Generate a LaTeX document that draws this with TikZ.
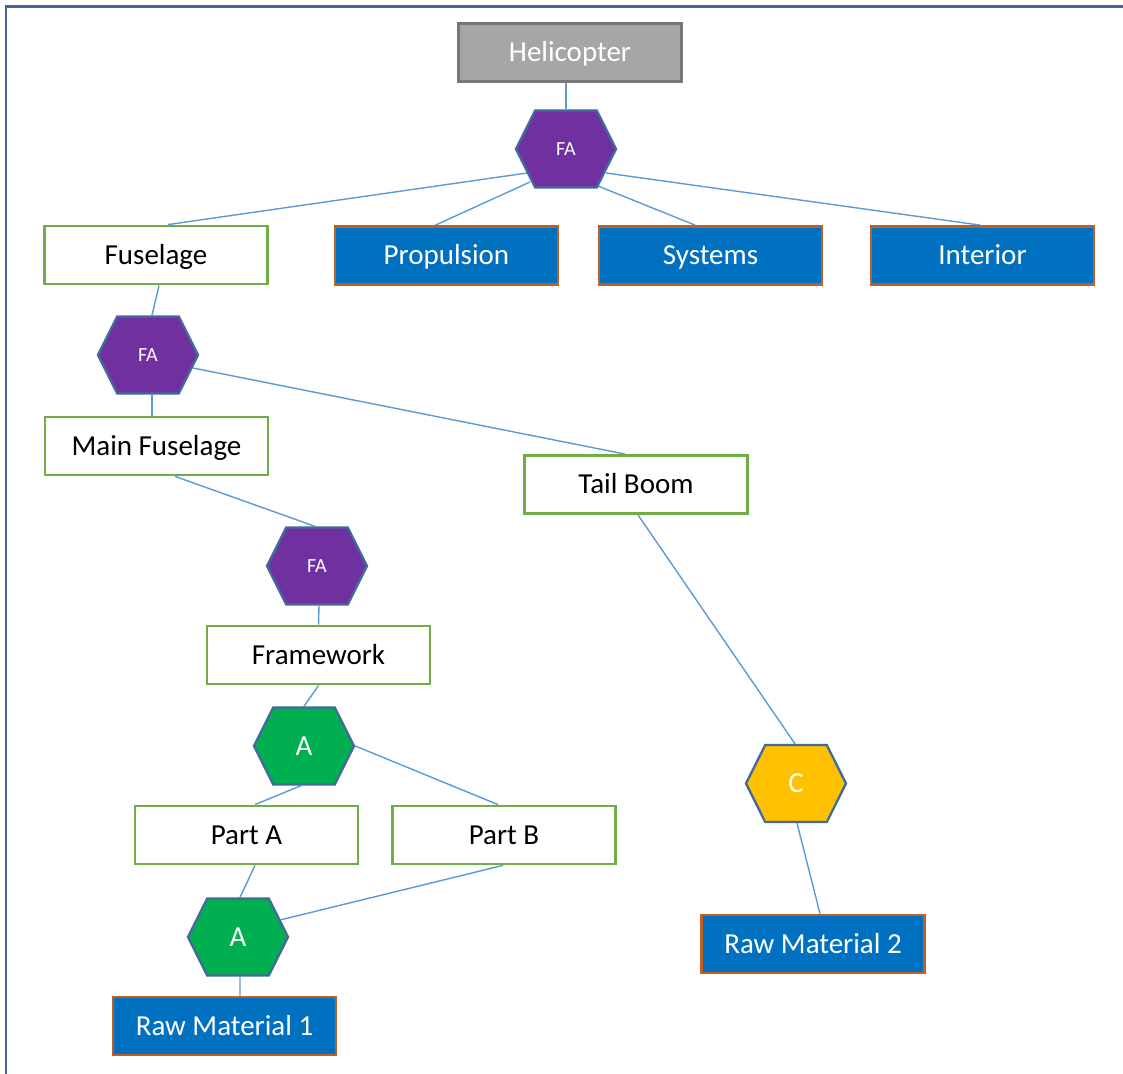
\documentclass[tikz,border=0pt]{standalone}
\usepackage{fontspec}
\setmainfont{Carlito}
\usetikzlibrary{shapes.symbols,calc,backgrounds}

\definecolor{linkblue}{RGB}{91,155,213}
\definecolor{framecol}{RGB}{63,104,163}
\definecolor{partgreen}{RGB}{112,173,71}
\definecolor{buyblue}{RGB}{0,112,192}
\definecolor{buyedge}{RGB}{190,95,35}
\definecolor{rootfill}{RGB}{166,166,166}
\definecolor{rootedge}{RGB}{120,120,120}
\definecolor{hexedge}{RGB}{65,105,155}
\definecolor{fapurple}{RGB}{112,48,160}
\definecolor{agreen}{RGB}{0,176,80}
\definecolor{cyellow}{RGB}{255,192,0}

\begin{document}
\begin{tikzpicture}[x=0.02cm,y=-0.02cm,
  anybox/.style={rectangle, minimum width=4.46cm, minimum height=1.16cm, inner sep=0pt,
    line width=1.6pt, font=\fontsize{16.5}{20}\selectfont, text height=10.6pt, text depth=0pt},
  madebox/.style={anybox, draw=partgreen, fill=white, text=black},
  buybox/.style={anybox, draw=buyedge, fill=buyblue, text=white},
  rootbox/.style={anybox, draw=rootedge, fill=rootfill, text=white},
  hexa/.style={signal, signal to=east and west, signal pointer angle=127,
    minimum width=2cm, minimum height=1.54cm, inner sep=0pt,
    draw=hexedge, line width=1.3pt, text=white},
  small hexa/.style={hexa, font=\fontsize{11.4}{13}\selectfont},
  big hexa/.style={hexa, font=\fontsize{16.5}{20}\selectfont, text height=10.6pt, text depth=0pt},
  link/.style={draw=linkblue, line width=0.8pt}]
\useasboundingbox (0,0) rectangle (1123,1074);
\draw[framecol, line width=1.7pt] (6,1080) -- (6,6.5) -- (1130,6.5);

% top level
\node[rootbox] (heli) at (570,52.5) {Helicopter};
\node[small hexa, fill=fapurple] (fa1) at (566,149) {FA};
\node[madebox] (fuselage) at (156,255) {Fuselage};
\node[buybox] (propulsion) at (446.5,255.5) {Propulsion};
\node[buybox] (systems) at (710.5,255.5) {Systems};
\node[buybox] (interior) at (982.5,255.5) {Interior};

% fuselage branch
\node[small hexa, fill=fapurple] (fa2) at (148,355) {FA};
\node[madebox] (mainfus) at (156.5,446) {Main Fuselage};
\node[madebox] (tailboom) at (636,484.5) {Tail Boom};
\node[small hexa, fill=fapurple] (fa3) at (317,566) {FA};
\node[madebox] (framework) at (318.5,655) {Framework};
\node[big hexa, fill=agreen] (a1) at (304,746) {A};
\node[madebox] (parta) at (246.5,835) {Part A};
\node[madebox] (partb) at (504,835) {Part B};
\node[big hexa, fill=agreen] (a2) at (238,937) {A};
\node[buybox] (raw1) at (224.5,1026) {Raw Material 1};

% tail boom branch
\node[big hexa, fill=cyellow] (c) at (796,783.5) {C};
\node[buybox] (raw2) at (813,944) {Raw Material 2};

\begin{scope}[on background layer]
\draw[link] (fa1.north) -- (fa1.north |- heli.south);
\draw[link] ($(fa1)+(-39,24)$) -- ($(fuselage.north)+(12,0)$);
\draw[link] ($(fa1)+(-36,33)$) -- ($(propulsion.north)+(-11,0)$);
\draw[link] ($(fa1)+(32,37)$) -- ($(systems.north)+(-15.5,0)$);
\draw[link] ($(fa1)+(40,24)$) -- ($(interior.north)+(-2.5,0)$);
\draw[link] ($(fuselage.south)+(3,0)$) -- ($(fa2.north)+(4,0)$);
\draw[link] ($(fa2.south)+(4,0)$) -- ($(mainfus.north)+(-4.5,0)$);
\draw[link] ($(fa2)+(45,13)$) -- ($(tailboom.north)+(-11,0)$);
\draw[link] ($(mainfus.south)+(18.5,0)$) -- ($(fa3.north)+(-2,0)$);
\draw[link] ($(fa3.south)+(2,0)$) -- (framework.north);
\draw[link] (framework.south) -- (a1.north);
\draw[link] ($(a1.south)+(-3,0)$) -- ($(parta.north)+(8.5,0)$);
\draw[link] (a1.east) -- ($(partb.north)+(-6,0)$);
\draw[link] ($(parta.south)+(8.5,0)$) -- ($(a2.north)+(2,0)$);
\draw[link] ($(partb.south)+(-1,0)$) -- ($(a2)+(42,-17)$);
\draw[link] ($(a2.south)+(2,0)$) -- ($(raw1.north)+(15.5,0)$);
\draw[link] ($(tailboom.south)+(2,0)$) -- ($(c.north)+(-1,0)$);
\draw[link] ($(c.south)+(1,0)$) -- ($(raw2.north)+(7,0)$);
\end{scope}
\end{tikzpicture}
\end{document}
